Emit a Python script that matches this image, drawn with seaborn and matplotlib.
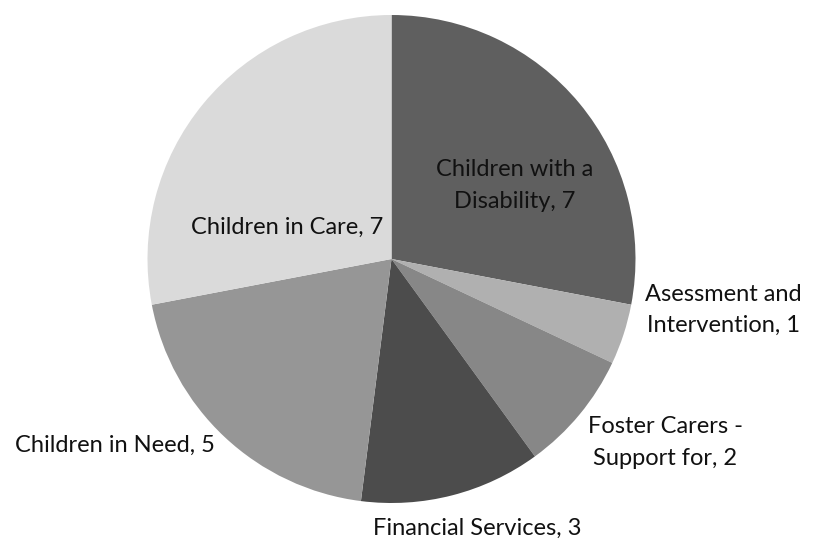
import matplotlib
matplotlib.use("Agg")
import matplotlib.pyplot as plt
import seaborn as sns

# Caseload by service area
categories = [
    "Children with a\nDisability",
    "Asessment and\nIntervention",
    "Foster Carers -\nSupport for",
    "Financial Services",
    "Children in Need",
    "Children in Care",
]
values = [7, 1, 2, 3, 5, 7]
slice_colors = ["#5f5f5f", "#b0b0b0", "#878787", "#4c4c4c", "#969696", "#dadada"]

# label anchor positions (axes data units, pie radius = 1) and alignment
label_pos = [(0.506, 0.301), (1.359, -0.209), (1.121, -0.752),
             (0.350, -1.102), (-0.723, -0.762), (-0.429, 0.131)]
label_ha = ["center", "center", "center", "center", "right", "center"]

sns.set_theme(style="white")
plt.rcParams["font.family"] = ["Lato", "DejaVu Sans"]

W, H = 817, 542
fig = plt.figure(figsize=(W / 100, H / 100), dpi=100)
cx, cy, r = 391.5, 259, 244
ax = fig.add_axes([(cx - r) / W, (H - cy - r) / H, 2 * r / W, 2 * r / H])

ax.pie(values, colors=slice_colors, startangle=90, counterclock=False,
       radius=1, wedgeprops=dict(linewidth=0))
ax.set_xlim(-1, 1)
ax.set_ylim(-1, 1)
ax.set_aspect("auto")
ax.axis("off")

for name, v, (x, y), ha in zip(categories, values, label_pos, label_ha):
    ax.text(x, y, f"{name}, {v}", ha=ha, va="center", fontsize=17,
            color="#111111", multialignment="center",
            linespacing=1.6, clip_on=False)

fig.savefig("out.png", dpi=100)
